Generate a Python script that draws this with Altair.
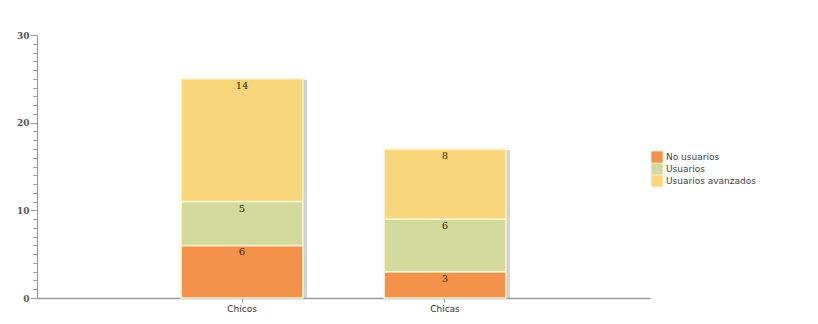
import altair as alt
import pandas as pd

categories = ["Chicos", "Chicas"]
series = ["No usuarios", "Usuarios", "Usuarios avanzados"]
no_usuarios = [6, 3]
usuarios = [5, 6]
avanzados = [14, 8]
colors = ["#F4914B", "#D3DA9C", "#F9D57C"]

rows = []
for i, c in enumerate(categories):
    for k, (s, vals) in enumerate(zip(series, [no_usuarios, usuarios, avanzados])):
        rows.append({"cat": c, "serie": s, "order": k, "value": vals[i]})
df = pd.DataFrame(rows)

totals = pd.DataFrame({"cat": categories,
                       "total": [a + b + c for a, b, c in zip(no_usuarios, usuarios, avanzados)]})

xscale = alt.Scale(domain=categories, paddingInner=0.4, paddingOuter=0.71)
yscale = alt.Scale(domain=[0, 30], nice=False)

xaxis = alt.Axis(title=None, labelAngle=0, labelFont="DejaVu Sans", labelFontSize=9,
                 labelColor="#333333", domainColor="#9a9a9a", tickColor="#9a9a9a",
                 tickSize=4, labelPadding=2, domainWidth=1.5)
yaxis = alt.Axis(title=None, values=list(range(31)),
                 labelExpr="datum.value % 10 === 0 ? datum.label : ''",
                 tickSize={"condition": {"test": "datum.value % 10 === 0", "value": 7}, "value": 4},
                 labelFont="DejaVu Serif", labelFontSize=9, labelFontWeight="bold",
                 labelColor="#555555", domainColor="#8F96B8", tickColor="#8F96B8",
                 grid=False, labelPadding=1)

shadow = alt.Chart(totals).mark_bar(color="#9a9a9a", opacity=0.45, xOffset=4, yOffset=1).encode(
    x=alt.X("cat:N", scale=xscale, sort=categories, axis=xaxis),
    y=alt.Y("total:Q", scale=yscale, axis=yaxis),
)

base = alt.Chart(df).transform_stack(
    stack="value", as_=["y0", "y1"], groupby=["cat"], sort=[alt.SortField("order")]
)

bars = base.mark_bar(stroke="#FFF6D0", strokeWidth=1.5).encode(
    x=alt.X("cat:N", scale=xscale, sort=categories, axis=xaxis),
    y=alt.Y("y0:Q", scale=yscale, axis=yaxis),
    y2="y1:Q",
    color=alt.Color("serie:N", scale=alt.Scale(domain=series, range=colors),
                    legend=alt.Legend(title=None, orient="none", legendX=614, legendY=116,
                                      symbolType="square", symbolSize=130, symbolStrokeWidth=0,
                                      labelFont="DejaVu Sans", labelFontSize=9, labelColor="#444444",
                                      rowPadding=0, symbolOffset=0, labelOffset=3)),
)

labels = base.mark_text(baseline="middle", dy=7, font="DejaVu Serif", fontSize=10,
                        color="#3a2a10").encode(
    x=alt.X("cat:N", scale=xscale, sort=categories, axis=xaxis),
    y=alt.Y("y1:Q", scale=yscale, axis=yaxis),
    text="value:Q",
)

chart = alt.layer(shadow, bars, labels).properties(
    width=613, height=263,
    background="white",
    autosize=alt.AutoSizeParams(type="none"),
    padding={"left": 29, "top": 27, "right": 160, "bottom": 18},
).configure_view(stroke=None)

chart.save("out.html", embed_options={"renderer": "svg", "actions": False})
